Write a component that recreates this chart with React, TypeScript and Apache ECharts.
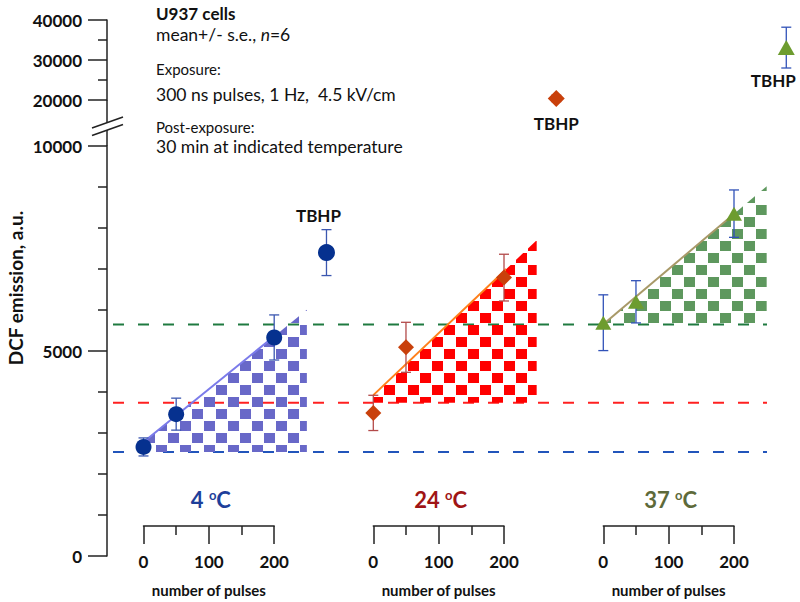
import React, { useEffect, useRef } from 'react';
import * as echarts from 'echarts';

// ---------- data ----------
const temperatures = ['4', '24', '37'];
const pulses = [0, 50, 200];
const blueMean = [2660, 3460, 5330];
const blueErr = [220, 390, 550];
const redMean = [3490, 5090, 6790];
const redErr = [430, 610, 570];
const greenMean = [5690, 6200, 8350];
const greenErr = [680, 515, 578];
const tbhpPulses = 280;
const tbhpMean = [7400, 20400, 33100];
const tbhpErr = [560, 800, 5100];
const baselines = [2535, 3737, 5647];
const fitPulses = [0, 250];
const fitStart = [2779, 3924, 5650];
const fitEnd = [6004, 7702, 9018];
const xTicks = [0, 200];
const lowerRange = [0, 10000];
const upperRange = [20000, 40000];

// ---------- styles ----------
const FONT = 'Lato, "Open Sans", sans-serif';
const markerSymbols = ['circle', 'diamond', 'triangle'];
const markerSizes: any[] = [16, 16, [16, 14]];
const tbhpSizes: any[] = [17, 17, [17, 15]];
const markerColors = ['#06318f', '#c9400b', '#6d9c2f'];
const errColors = ['#3b57b0', '#b34a4a', '#3152b8'];
const fitColors = ['#7b7bea', '#ff7f1a', '#a89968'];
const checkColors = ['#6868c8', '#ff0000', '#5e985e'];
const baseColors = ['#2255bb', '#ff2020', '#1f7a40'];
const tempColors = ['#1e3f9a', '#a01515', '#5e6a3a'];
const AXIS_COLOR = '#222';

const GROUP_LEFT = [143.5, 373.3, 603.3];
const GROUP_W = 130.7;
const LOWER_TOP = 146;
const LOWER_H = 410;
const UPPER_TOP = 20;
const UPPER_H = 80;
const Y_AXIS_X = 107;

function makeChecker(color: string) {
  const c = document.createElement('canvas');
  c.width = 24;
  c.height = 24;
  const ctx = c.getContext('2d')!;
  ctx.fillStyle = color;
  ctx.fillRect(0, 1, 11, 10);
  ctx.fillRect(12, 13, 11, 10);
  return { image: c, repeat: 'repeat', imageWidth: 24, imageHeight: 24 } as any;
}

export default function App() {
  const ref = useRef<HTMLDivElement>(null);
  useEffect(() => {
    if (!ref.current) return;
    const chart = echarts.init(ref.current, undefined, { renderer: 'svg' });
    const means = [blueMean, redMean, greenMean];
    const errs = [blueErr, redErr, greenErr];

    const grids: any[] = [];
    const xAxes: any[] = [];
    const yAxes: any[] = [];
    const axisLineStyle = { color: AXIS_COLOR, width: 1.5 };
    // lower grids 0..2
    for (let g = 0; g < 3; g++) {
      grids.push({ left: GROUP_LEFT[g], width: GROUP_W, top: LOWER_TOP, height: LOWER_H, containLabel: false, outerBoundsMode: 'none' });
      xAxes.push({
        type: 'value', gridIndex: g, min: xTicks[0], max: xTicks[1], interval: 100, offset: -30,
        axisLine: { show: true, onZero: false, lineStyle: axisLineStyle },
        axisTick: { show: true, length: 18, lineStyle: axisLineStyle },
        minorTick: { show: true, splitNumber: 2, length: 9, lineStyle: axisLineStyle },
        splitLine: { show: false },
        axisLabel: { margin: 27, fontFamily: FONT, fontWeight: 'bold', fontSize: 17, color: '#111' },
        name: 'number of pulses', nameLocation: 'middle', nameGap: 56,
        nameTextStyle: { fontFamily: FONT, fontWeight: 'bold', fontSize: 15, color: '#111' },
      });
      yAxes.push({
        type: 'value', gridIndex: g, min: lowerRange[0], max: lowerRange[1], interval: 5000,
        show: g === 0, position: 'left', offset: GROUP_LEFT[0] - Y_AXIS_X,
        axisLine: { show: true, onZero: false, lineStyle: axisLineStyle },
        axisTick: { show: true, length: 19, lineStyle: axisLineStyle },
        minorTick: { show: true, splitNumber: 5, length: 9, lineStyle: axisLineStyle },
        splitLine: { show: false },
        axisLabel: { margin: 25, fontFamily: FONT, fontWeight: 'bold', fontSize: 17, color: '#111', formatter: (v: number) => String(v) },
      });
    }
    // upper grids 3..5
    for (let g = 0; g < 3; g++) {
      grids.push({ left: GROUP_LEFT[g], width: GROUP_W, top: UPPER_TOP, height: UPPER_H, containLabel: false, outerBoundsMode: 'none' });
      xAxes.push({ type: 'value', gridIndex: 3 + g, min: xTicks[0], max: xTicks[1], show: false });
      yAxes.push({
        type: 'value', gridIndex: 3 + g, min: upperRange[0], max: upperRange[1], interval: 10000,
        show: g === 0, position: 'left', offset: GROUP_LEFT[0] - Y_AXIS_X,
        axisLine: { show: true, onZero: false, lineStyle: axisLineStyle },
        axisTick: { show: true, length: 19, lineStyle: axisLineStyle },
        minorTick: { show: true, splitNumber: 2, length: 9, lineStyle: axisLineStyle },
        splitLine: { show: false },
        axisLabel: { margin: 25, fontFamily: FONT, fontWeight: 'bold', fontSize: 17, color: '#111', formatter: (v: number) => String(v) },
      });
    }
    // background grid 6 for baselines
    grids.push({ left: 113, width: 654, top: LOWER_TOP, height: LOWER_H, containLabel: false, outerBoundsMode: 'none' });
    xAxes.push({ type: 'value', gridIndex: 6, min: 0, max: 1, show: false });
    yAxes.push({ type: 'value', gridIndex: 6, min: lowerRange[0], max: lowerRange[1], show: false });

    const series: any[] = [];
    for (let g = 0; g < 3; g++) {
      // baseline
      series.push({
        type: 'line', xAxisIndex: 6, yAxisIndex: 6, silent: true, symbol: 'none', z: 1,
        data: [[0, baselines[g]], [1, baselines[g]]],
        lineStyle: { color: baseColors[g], width: 2, type: [11, 14] },
      });
      // checker area
      const pattern = makeChecker(checkColors[g]);
      series.push({
        type: 'custom', xAxisIndex: g, yAxisIndex: g, silent: true, clip: false, z: 2,
        data: [[fitPulses[0], fitPulses[1], baselines[g], fitStart[g], fitEnd[g]]],
        encode: { x: [0, 1], y: [2, 3, 4] },
        renderItem: (params: any, api: any) => {
          const x0 = api.value(0), x1 = api.value(1), b = api.value(2), s = api.value(3), e = api.value(4);
          const pts = [api.coord([x0, b]), api.coord([x0, s]), api.coord([x1, e]), api.coord([x1, b])];
          return { type: 'polygon', shape: { points: pts }, style: { fill: pattern } };
        },
      });
      // fit line
      series.push({
        type: 'line', xAxisIndex: g, yAxisIndex: g, silent: true, symbol: 'none', clip: false, z: 3,
        data: [[fitPulses[0], fitStart[g]], [fitPulses[1], fitEnd[g]]],
        lineStyle: { color: fitColors[g], width: 2 },
      });
      // error bars
      const tbhpUpper = tbhpMean[g] > lowerRange[1];
      const errItems = pulses.map((p, i) => [p, means[g][i], errs[g][i]]);
      const errRender = (params: any, api: any) => {
        const x = api.value(0), m = api.value(1), e = api.value(2);
        const t = api.coord([x, m + e]);
        const b = api.coord([x, m - e]);
        const st = { stroke: errColors[g], lineWidth: 1.3 };
        return {
          type: 'group',
          children: [
            { type: 'line', shape: { x1: t[0], y1: t[1], x2: b[0], y2: b[1] }, style: st },
            { type: 'line', shape: { x1: t[0] - 5, y1: t[1], x2: t[0] + 5, y2: t[1] }, style: st },
            { type: 'line', shape: { x1: b[0] - 5, y1: b[1], x2: b[0] + 5, y2: b[1] }, style: st },
          ],
        };
      };
      series.push({
        type: 'custom', xAxisIndex: g, yAxisIndex: g, silent: true, clip: false, z: 4,
        data: errItems, encode: { x: 0, y: 1 }, renderItem: errRender,
      });
      const tIdx = tbhpUpper ? 3 + g : g;
      series.push({
        type: 'custom', xAxisIndex: tIdx, yAxisIndex: tIdx, silent: true, clip: false, z: 4,
        data: [[tbhpPulses, tbhpMean[g], tbhpErr[g]]], encode: { x: 0, y: 1 }, renderItem: errRender,
      });
      // markers
      series.push({
        type: 'scatter', xAxisIndex: g, yAxisIndex: g, clip: false, z: 5,
        symbol: markerSymbols[g], symbolSize: markerSizes[g],
        itemStyle: { color: markerColors[g], opacity: 1 },
        data: pulses.map((p, i) => [p, means[g][i]]),
      });
      const labelCfg = [
        { position: 'top', distance: 20, offset: [-8, 0] },
        { position: 'bottom', distance: 8, offset: [0, 0] },
        { position: 'bottom', distance: 17, offset: [-13, 0] },
      ][g];
      series.push({
        type: 'scatter', xAxisIndex: tIdx, yAxisIndex: tIdx, clip: false, z: 5,
        symbol: markerSymbols[g], symbolSize: tbhpSizes[g],
        itemStyle: { color: markerColors[g], opacity: 1 },
        data: [[tbhpPulses, tbhpMean[g]]],
        label: {
          show: true, formatter: 'TBHP', ...labelCfg,
          fontFamily: FONT, fontWeight: 'bold', fontSize: 17, color: '#111',
        },
      });
    }

    const graphics: any[] = [
      // y-axis break
      { type: 'line', shape: { x1: Y_AXIS_X, y1: UPPER_TOP + UPPER_H, x2: Y_AXIS_X, y2: 122.7 }, style: { stroke: AXIS_COLOR, lineWidth: 1.5 } },
      { type: 'line', shape: { x1: Y_AXIS_X, y1: 130, x2: Y_AXIS_X, y2: LOWER_TOP }, style: { stroke: AXIS_COLOR, lineWidth: 1.5 } },
      { type: 'line', shape: { x1: 92, y1: 128, x2: 123, y2: 117 }, style: { stroke: AXIS_COLOR, lineWidth: 1.5 } },
      { type: 'line', shape: { x1: 92, y1: 135.5, x2: 123, y2: 124.5 }, style: { stroke: AXIS_COLOR, lineWidth: 1.5 } },
      // y title
      {
        type: 'text', x: 15, y: 288, rotation: Math.PI / 2,
        style: { text: 'DCF emission, a.u.', align: 'center', verticalAlign: 'middle', fontFamily: FONT, fontWeight: 'bold', fontSize: 19, fill: '#111' },
      },
      // annotation block
      { type: 'text', x: 156, y: 13, style: { text: 'U937 cells', verticalAlign: 'middle', fontFamily: FONT, fontWeight: 'bold', fontSize: 17, fill: '#111' } },
      {
        type: 'text', x: 156, y: 34,
        style: {
          text: '{a|mean+/- s.e., }{i|n}{a|=6}', verticalAlign: 'middle',
          rich: {
            a: { fontFamily: FONT, fontSize: 17.5, fill: '#111', color: '#111' },
            i: { fontFamily: FONT, fontSize: 17.5, fontStyle: 'italic', fill: '#111', color: '#111' },
          },
        },
      },
      { type: 'text', x: 156, y: 69, style: { text: 'Exposure:', verticalAlign: 'middle', fontFamily: FONT, fontSize: 15, fill: '#111' } },
      { type: 'text', x: 156, y: 94, style: { text: '300 ns pulses, 1 Hz,  4.5 kV/cm', verticalAlign: 'middle', fontFamily: FONT, fontSize: 17.5, fill: '#111' } },
      { type: 'text', x: 156, y: 127, style: { text: 'Post-exposure:', verticalAlign: 'middle', fontFamily: FONT, fontSize: 15, fill: '#111' } },
      { type: 'text', x: 156, y: 146, style: { text: '30 min at indicated temperature', verticalAlign: 'middle', fontFamily: FONT, fontSize: 17.5, fill: '#111' } },
    ];
    // temperature labels
    for (let g = 0; g < 3; g++) {
      graphics.push({
        type: 'text', x: GROUP_LEFT[g] + GROUP_W / 2 + 2, y: 499,
        style: {
          text: `{n|${temperatures[g]} }{s|o}{n|C}`, align: 'center', verticalAlign: 'middle',
          rich: {
            n: { fontFamily: FONT, fontWeight: 'bold', fontSize: 22, color: tempColors[g], fill: tempColors[g] },
            s: { fontFamily: FONT, fontWeight: 'bold', fontSize: 13, color: tempColors[g], fill: tempColors[g], verticalAlign: 'top' },
          },
        },
      });
    }

    chart.setOption({
      animation: false,
      backgroundColor: '#fff',
      grid: grids,
      xAxis: xAxes,
      yAxis: yAxes,
      series,
      graphic: graphics,
    });
    return () => chart.dispose();
  }, []);
  return <div ref={ref} style={{ width: 800, height: 602, position: 'absolute', left: 0, top: 0 }} />;
}
